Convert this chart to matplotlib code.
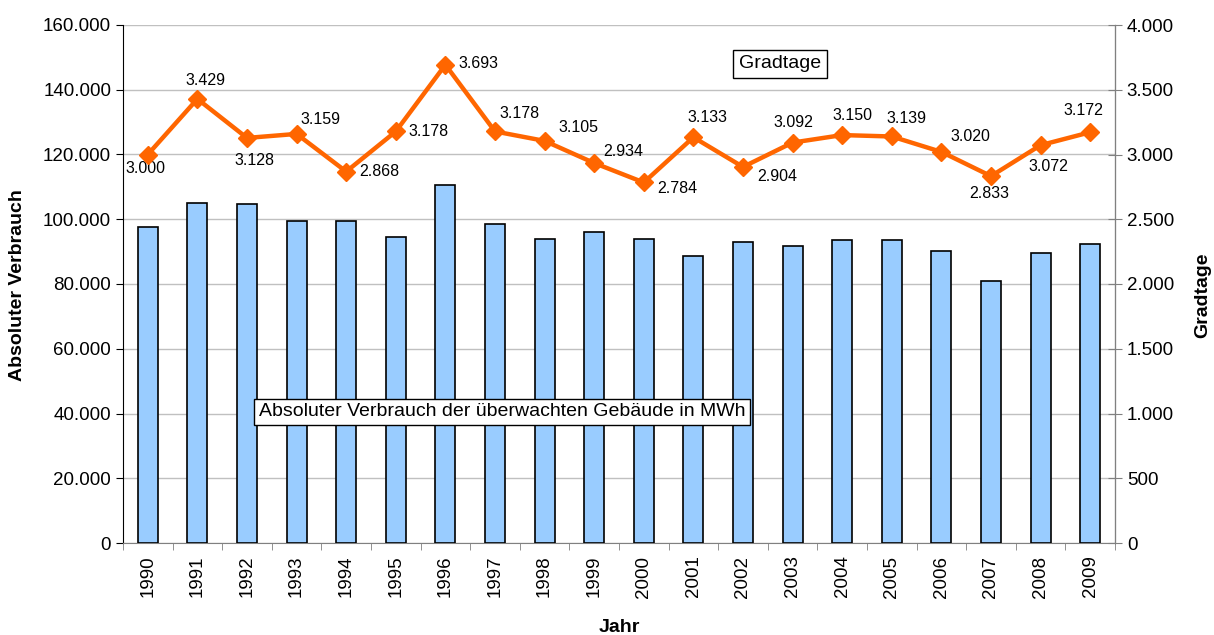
import matplotlib
matplotlib.use("Agg")
import matplotlib.pyplot as plt
from matplotlib.ticker import FuncFormatter, MultipleLocator, FixedLocator
import numpy as np

plt.rcParams['font.family'] = ['Liberation Sans', 'DejaVu Sans']

years = ["1990", "1991", "1992", "1993", "1994", "1995", "1996", "1997", "1998", "1999",
         "2000", "2001", "2002", "2003", "2004", "2005", "2006", "2007", "2008", "2009"]
verbrauch = [97500, 105000, 104600, 99600, 99600, 94600, 110700, 98400, 93900, 96200,
             93900, 88700, 92900, 91800, 93600, 93600, 90100, 81000, 89700, 92400]
gradtage = [3000, 3429, 3128, 3159, 2868, 3178, 3693, 3178, 3105, 2934,
            2784, 3133, 2904, 3092, 3150, 3139, 3020, 2833, 3072, 3172]
label_offsets = [(-2, -14), (8, 18), (7, -23), (24, 14), (33, 0), (33, 0), (33, 1), (25, 18),
                 (34, 13), (29, 12), (34, -6), (14, 20), (34, -10), (1, 20), (10, 20),
                 (15, 18), (29, 15), (-2, -17), (8, -21), (-7, 22)]

def fmt(v, pos=None):
    return f"{v:,.0f}".replace(",", ".")

W, H = 1214, 635
fig = plt.figure(figsize=(W / 100, H / 100), dpi=100)
ax = fig.add_axes([123 / W, 92 / H, 992 / W, 518 / H])
ax2 = ax.twinx()

x = np.arange(len(years))
ax.bar(x, verbrauch, width=0.4, color="#99CCFF", edgecolor="black", linewidth=1.2, zorder=3)
ax.set_xlim(-0.5, len(years) - 0.5)
ax.set_ylim(0, 160000)
ax.yaxis.set_major_locator(MultipleLocator(20000))
ax.yaxis.set_major_formatter(FuncFormatter(fmt))
ax.grid(axis="y", color="#C0C0C0", linewidth=1.0, zorder=0)
ax.set_axisbelow(True)

ax.set_xticks(x)
ax.set_xticklabels(years, rotation=90, fontsize=13.5)
ax.tick_params(axis="x", which="major", length=0, pad=9)
ax.xaxis.set_minor_locator(FixedLocator(np.arange(-0.5, len(years), 1.0)))
ax.tick_params(axis="x", which="minor", length=5, color="#808080")
ax.tick_params(axis="y", labelsize=13.5, length=5, direction="out")

for s in ["top"]:
    ax.spines[s].set_visible(False)
    ax2.spines[s].set_visible(False)
ax.spines["left"].set_color("black")
ax.spines["bottom"].set_color("#808080")
ax2.spines["right"].set_color("#808080")
ax2.spines["left"].set_visible(False)
ax2.spines["bottom"].set_visible(False)

ax2.plot(x, gradtage, color="#FF6600", linewidth=3.2, marker="D", markersize=9,
         markerfacecolor="#FF6600", markeredgecolor="#FF6600", zorder=5)
ax2.set_ylim(0, 4000)
ax2.yaxis.set_major_locator(MultipleLocator(500))
ax2.yaxis.set_major_formatter(FuncFormatter(fmt))
ax2.tick_params(axis="y", labelsize=13.5, length=10, direction="inout", color="#808080")

for xi, v, (dx, dy) in zip(x, gradtage, label_offsets):
    ax2.annotate(fmt(v), (xi, v), xytext=(dx, dy), textcoords="offset pixels",
                 ha="center", va="center", fontsize=11.5)

fig.text(18 / W, 1 - 285 / H, "Absoluter Verbrauch", rotation=90, ha="center", va="center",
         fontsize=14, fontweight="bold")
fig.text(1203 / W, 1 - 295 / H, "Gradtage", rotation=90, ha="center", va="center",
         fontsize=14, fontweight="bold")
fig.text(619 / W, 1 - 627 / H, "Jahr", ha="center", va="center",
         fontsize=14, fontweight="bold")

fig.text(780 / W, 1 - 64 / H, "Gradtage", ha="center", va="center", fontsize=14,
         bbox=dict(boxstyle="square,pad=0.3", facecolor="white", edgecolor="black", linewidth=1))
fig.text(502 / W, 1 - 412 / H, "Absoluter Verbrauch der überwachten Gebäude in MWh",
         ha="center", va="center", fontsize=14,
         bbox=dict(boxstyle="square,pad=0.25", facecolor="white", edgecolor="black", linewidth=1))

fig.savefig("out.png", dpi=100)
